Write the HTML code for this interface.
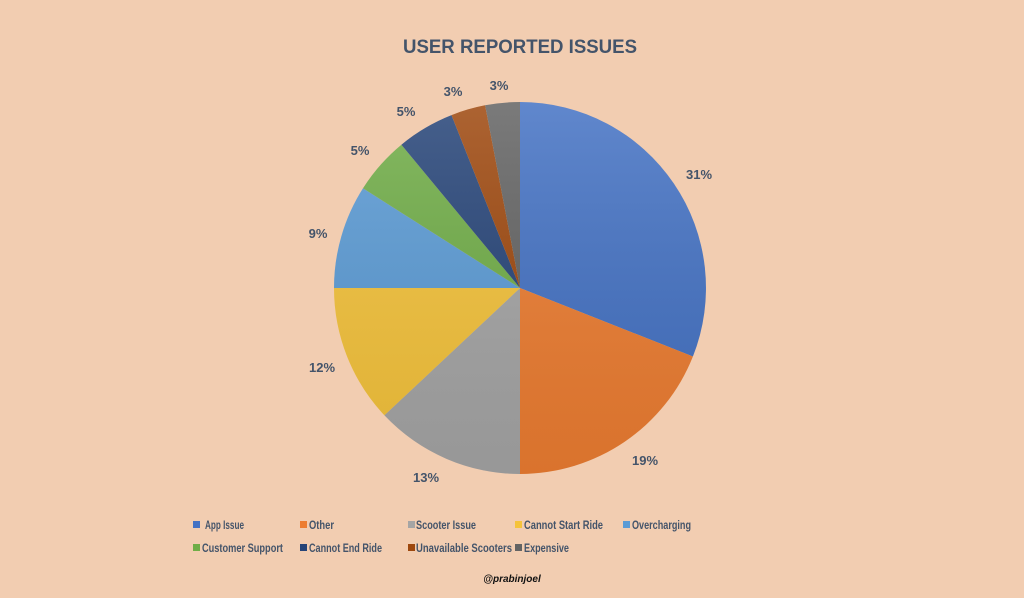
<!DOCTYPE html>
<html><head><meta charset="utf-8"><style>
body{margin:0;width:1024px;height:593px;background:#F2CDB1;font-family:"Liberation Sans",sans-serif;overflow:hidden}
</style></head><body>
<svg width="1024" height="593" xmlns="http://www.w3.org/2000/svg">
<defs>
<linearGradient id="g" x1="0" y1="0" x2="0" y2="1"><stop offset="0" stop-color="#fff" stop-opacity="0.15"/><stop offset="1" stop-color="#000" stop-opacity="0.08"/></linearGradient>
</defs>
<text x="520" y="53" text-anchor="middle" font-size="19" font-weight="bold" fill="#44546A" textLength="234" lengthAdjust="spacingAndGlyphs">USER REPORTED ISSUES</text>
<g>
<path d="M520,288 L520,102 A186,186 0 0 1 692.9,356.5 Z" fill="#4472C4"/>
<path d="M520,288 L692.9,356.5 A186,186 0 0 1 520,474 Z" fill="#ED7D31"/>
<path d="M520,288 L520,474 A186,186 0 0 1 384.4,415.3 Z" fill="#A5A5A5"/>
<path d="M520,288 L384.4,415.3 A186,186 0 0 1 334,288 Z" fill="#F5C33B"/>
<path d="M520,288 L334,288 A186,186 0 0 1 363,188.3 Z" fill="#5B9BD5"/>
<path d="M520,288 L363,188.3 A186,186 0 0 1 401.4,144.7 Z" fill="#70AD47"/>
<path d="M520,288 L401.4,144.7 A186,186 0 0 1 451.5,115.1 Z" fill="#264478"/>
<path d="M520,288 L451.5,115.1 A186,186 0 0 1 485.1,105.3 Z" fill="#9E480E"/>
<path d="M520,288 L485.1,105.3 A186,186 0 0 1 520,102 Z" fill="#636363"/>
</g>
<circle cx="520" cy="288" r="186" fill="url(#g)"/>
<g font-size="13" font-weight="bold" fill="#44546A" text-anchor="middle">
<text x="699" y="179">31%</text>
<text x="645" y="465">19%</text>
<text x="426" y="482">13%</text>
<text x="322" y="372">12%</text>
<text x="318" y="238">9%</text>
<text x="360" y="155">5%</text>
<text x="406" y="116">5%</text>
<text x="453" y="96">3%</text>
<text x="499" y="90">3%</text>
</g>
<g font-size="12" font-weight="bold" fill="#44546A" lengthAdjust="spacingAndGlyphs">
<rect x="193" y="521" width="7" height="7" fill="#4472C4"/><text x="205" y="529" textLength="39" lengthAdjust="spacingAndGlyphs">App Issue</text>
<rect x="300" y="521" width="7" height="7" fill="#ED7D31"/><text x="309" y="529" textLength="25" lengthAdjust="spacingAndGlyphs">Other</text>
<rect x="408" y="521" width="7" height="7" fill="#A5A5A5"/><text x="416" y="529" textLength="60" lengthAdjust="spacingAndGlyphs">Scooter Issue</text>
<rect x="515" y="521" width="7" height="7" fill="#F5C33B"/><text x="524" y="529" textLength="79" lengthAdjust="spacingAndGlyphs">Cannot Start Ride</text>
<rect x="623" y="521" width="7" height="7" fill="#5B9BD5"/><text x="632" y="529" textLength="59" lengthAdjust="spacingAndGlyphs">Overcharging</text>
<rect x="193" y="544" width="7" height="7" fill="#70AD47"/><text x="202" y="552" textLength="81" lengthAdjust="spacingAndGlyphs">Customer Support</text>
<rect x="300" y="544" width="7" height="7" fill="#264478"/><text x="309" y="552" textLength="73" lengthAdjust="spacingAndGlyphs">Cannot End Ride</text>
<rect x="408" y="544" width="7" height="7" fill="#9E480E"/><text x="416" y="552" textLength="96" lengthAdjust="spacingAndGlyphs">Unavailable Scooters</text>
<rect x="515" y="544" width="7" height="7" fill="#636363"/><text x="524" y="552" textLength="45" lengthAdjust="spacingAndGlyphs">Expensive</text>
</g>
<text x="512" y="582" text-anchor="middle" font-size="10" font-weight="bold" font-style="italic" fill="#111">@prabinjoel</text>
</svg>
</body></html>
